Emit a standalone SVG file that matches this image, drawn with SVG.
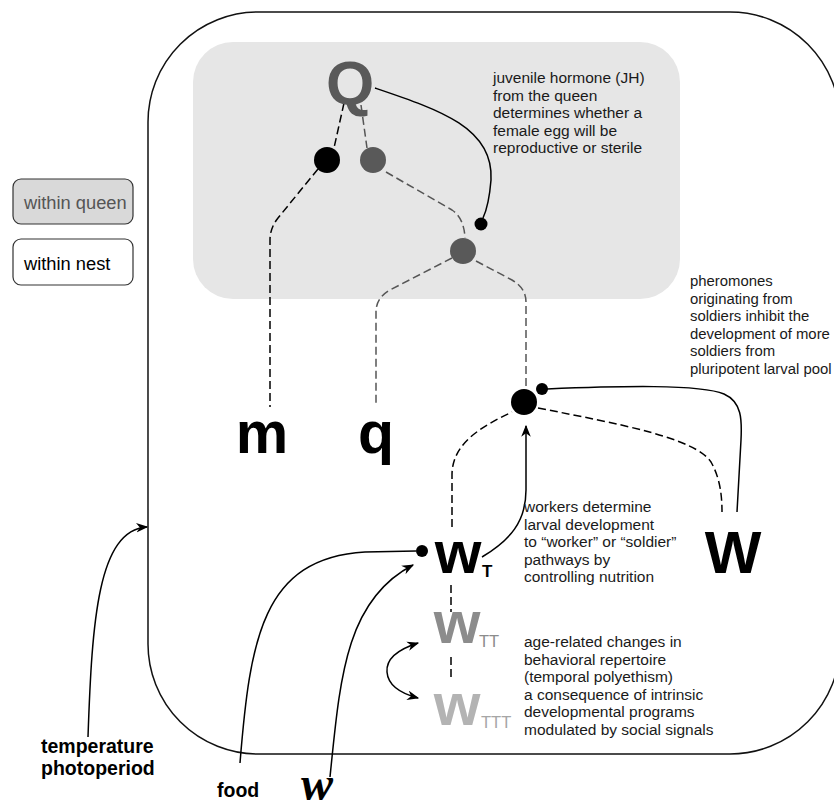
<svg xmlns="http://www.w3.org/2000/svg" width="834" height="807" viewBox="0 0 834 807">
<defs>
<marker id="ah" viewBox="0 0 10 8" refX="9" refY="4" markerWidth="12" markerHeight="10" markerUnits="userSpaceOnUse" orient="auto-start-reverse">
<path d="M0,0 L10,4 L0,8 L3,4 z" fill="#000"/>
</marker>
<style>
.txt{font-family:"Liberation Sans",Arial,sans-serif;font-size:15.5px;fill:#1a1a1a}
.big{font-family:"Liberation Sans",Arial,sans-serif;font-weight:bold}
.lbl{font-family:"Liberation Sans",Arial,sans-serif;font-weight:bold;font-size:19.5px;fill:#000}
.dk{fill:none;stroke:#000;stroke-width:1.5;stroke-dasharray:8,4}
.gr{fill:none;stroke:#555;stroke-width:1.5;stroke-dasharray:8,4}
.sol{fill:none;stroke:#000;stroke-width:1.5}
</style>
</defs>
<rect width="834" height="807" fill="#fff"/>
<g id="nest">
<rect x="148" y="12" width="692" height="742" rx="110" ry="110" fill="#fff" stroke="#111" stroke-width="1.5"/>
</g>
<g id="queen-area">
<rect x="193" y="42" width="487" height="257" rx="40" ry="40" fill="#e6e6e6"/>
</g>
<g id="legend">
<g id="legend-queen">
<rect x="13" y="179" width="120" height="45" rx="8" fill="#d9d9d9" stroke="#333" stroke-width="1.2"/>
<text x="24" y="209" class="txt" style="font-size:18.3px;fill:#555">within queen</text>
</g>
<g id="legend-nest">
<rect x="13" y="239" width="120" height="46" rx="8" fill="#fff" stroke="#333" stroke-width="1.2"/>
<text x="24" y="270" class="txt" style="font-size:18.3px;fill:#000">within nest</text>
</g>
</g>
<g id="connectors">
<path class="dk" d="M344,103 L334,148"/>
<path class="gr" d="M361,105 L367,148"/>
<path class="dk" d="M318,169 L278,218 Q270,228 270,240 L270,407"/>
<path class="gr" d="M386,172 L452,210 Q464,218 465,238"/>
<path class="sol" d="M375,88 C440,110 494,128 491,180 Q489,205 483,218"/>
<path class="gr" d="M452,258 L390,290 Q376,298 376,312 L376,405"/>
<path class="gr" d="M476,261 L512,280 Q526,288 526,302 L526,389"/>
<path class="dk" d="M452,527 L452,475 C452,445 478,428 512,412"/>
<path class="sol" d="M482,557 C510,540 526,522 526,490 L526,426" marker-end="url(#ah)"/>
<path class="dk" d="M538,408 C620,424 695,438 711,462 C720,478 722,495 722,512"/>
<path class="sol" d="M547,389 C620,386 700,384 724,394 C742,402 742,420 741,440 L737,512"/>
<path class="dk" d="M451,585 L451,612"/>
<path class="dk" d="M451,657 L451,679"/>
<path class="sol" d="M418,643 C396,650 386,660 387,672 C388,685 399,693 418,698" marker-start="url(#ah)" marker-end="url(#ah)"/>
<path class="sol" d="M240,763 C250,640 262,558 365,552 L416,551"/>
<path class="sol" d="M330,777 C340,680 345,600 413,565" marker-end="url(#ah)"/>
<path class="sol" d="M88,737 C92,620 98,530 147,527" marker-end="url(#ah)"/>
</g>
<g id="Q">
<text x="350" y="104" class="big" style="font-size:62px;fill:#595959" text-anchor="middle">Q</text>
</g>
<g id="dot-black-q"><circle cx="327" cy="160" r="13" fill="#000"/></g>
<g id="dot-grey-q"><circle cx="373" cy="160" r="13" fill="#595959"/></g>
<g id="dot-grey-low"><circle cx="463" cy="251" r="13" fill="#595959"/></g>
<g id="dot-jh"><circle cx="481" cy="224" r="6.5" fill="#000"/></g>
<g id="jh-text">
<text class="txt"><tspan x="493" y="83">juvenile hormone (JH)</tspan><tspan x="493" y="100.5">from the queen</tspan><tspan x="493" y="118">determines whether a</tspan><tspan x="493" y="135.5">female egg will be</tspan><tspan x="493" y="153">reproductive or sterile</tspan></text>
</g>
<g id="pheromone-text">
<text class="txt" style="font-size:14.9px"><tspan x="690" y="286">pheromones</tspan><tspan x="690" y="303.5">originating from</tspan><tspan x="690" y="321">soldiers inhibit the</tspan><tspan x="690" y="338.5">development of more</tspan><tspan x="690" y="356">soldiers from</tspan><tspan x="690" y="373.5">pluripotent larval pool</tspan></text>
</g>
<g id="m"><text x="262" y="453" class="big" style="font-size:59px" text-anchor="middle">m</text></g>
<g id="q"><text x="376" y="453" class="big" style="font-size:59px" text-anchor="middle">q</text></g>
<g id="node-big"><circle cx="524" cy="402" r="13" fill="#000"/></g>
<g id="dot-w"><circle cx="542" cy="389" r="6" fill="#000"/></g>
<g id="W-soldier"><text x="733" y="573" class="big" style="font-size:60px" text-anchor="middle">W</text></g>
<g id="wT">
<text x="458" y="573" class="big" style="font-size:60px" text-anchor="middle">w</text>
<text x="482" y="577" class="txt" style="font-size:17px;fill:#000;font-weight:bold">T</text>
</g>
<g id="dot-food"><circle cx="422" cy="551" r="6" fill="#000"/></g>
<g id="workers-text">
<text class="txt"><tspan x="524" y="512">workers determine</tspan><tspan x="524" y="529.5">larval development</tspan><tspan x="524" y="547">to “worker” or “soldier”</tspan><tspan x="524" y="564.5">pathways by</tspan><tspan x="524" y="582">controlling nutrition</tspan></text>
</g>
<g id="wTT">
<text x="457" y="643" class="big" style="font-size:60px;fill:#8c8c8c" text-anchor="middle">w</text>
<text x="479" y="647" class="txt" style="font-size:16.5px;fill:#8c8c8c">TT</text>
</g>
<g id="wTTT">
<text x="457" y="725" class="big" style="font-size:60px;fill:#b3b3b3" text-anchor="middle">w</text>
<text x="481" y="728" class="txt" style="font-size:16.5px;fill:#a6a6a6">TTT</text>
</g>
<g id="age-text">
<text class="txt"><tspan x="524" y="647">age-related changes in</tspan><tspan x="524" y="664.5">behavioral repertoire</tspan><tspan x="524" y="682">(temporal polyethism)</tspan><tspan x="524" y="699.5">a consequence of intrinsic</tspan><tspan x="524" y="717">developmental programs</tspan><tspan x="524" y="734.5">modulated by social signals</tspan></text>
</g>
<g id="temperature">
<text class="lbl"><tspan x="41" y="753">temperature</tspan><tspan x="41" y="775">photoperiod</tspan></text>
</g>
<g id="food"><text x="217" y="797" class="lbl">food</text></g>
<g id="w-input"><text x="317" y="800" style="font-family:'Liberation Serif','Times New Roman',serif;font-weight:bold;font-style:italic;font-size:48px" text-anchor="middle">w</text></g>
</svg>
